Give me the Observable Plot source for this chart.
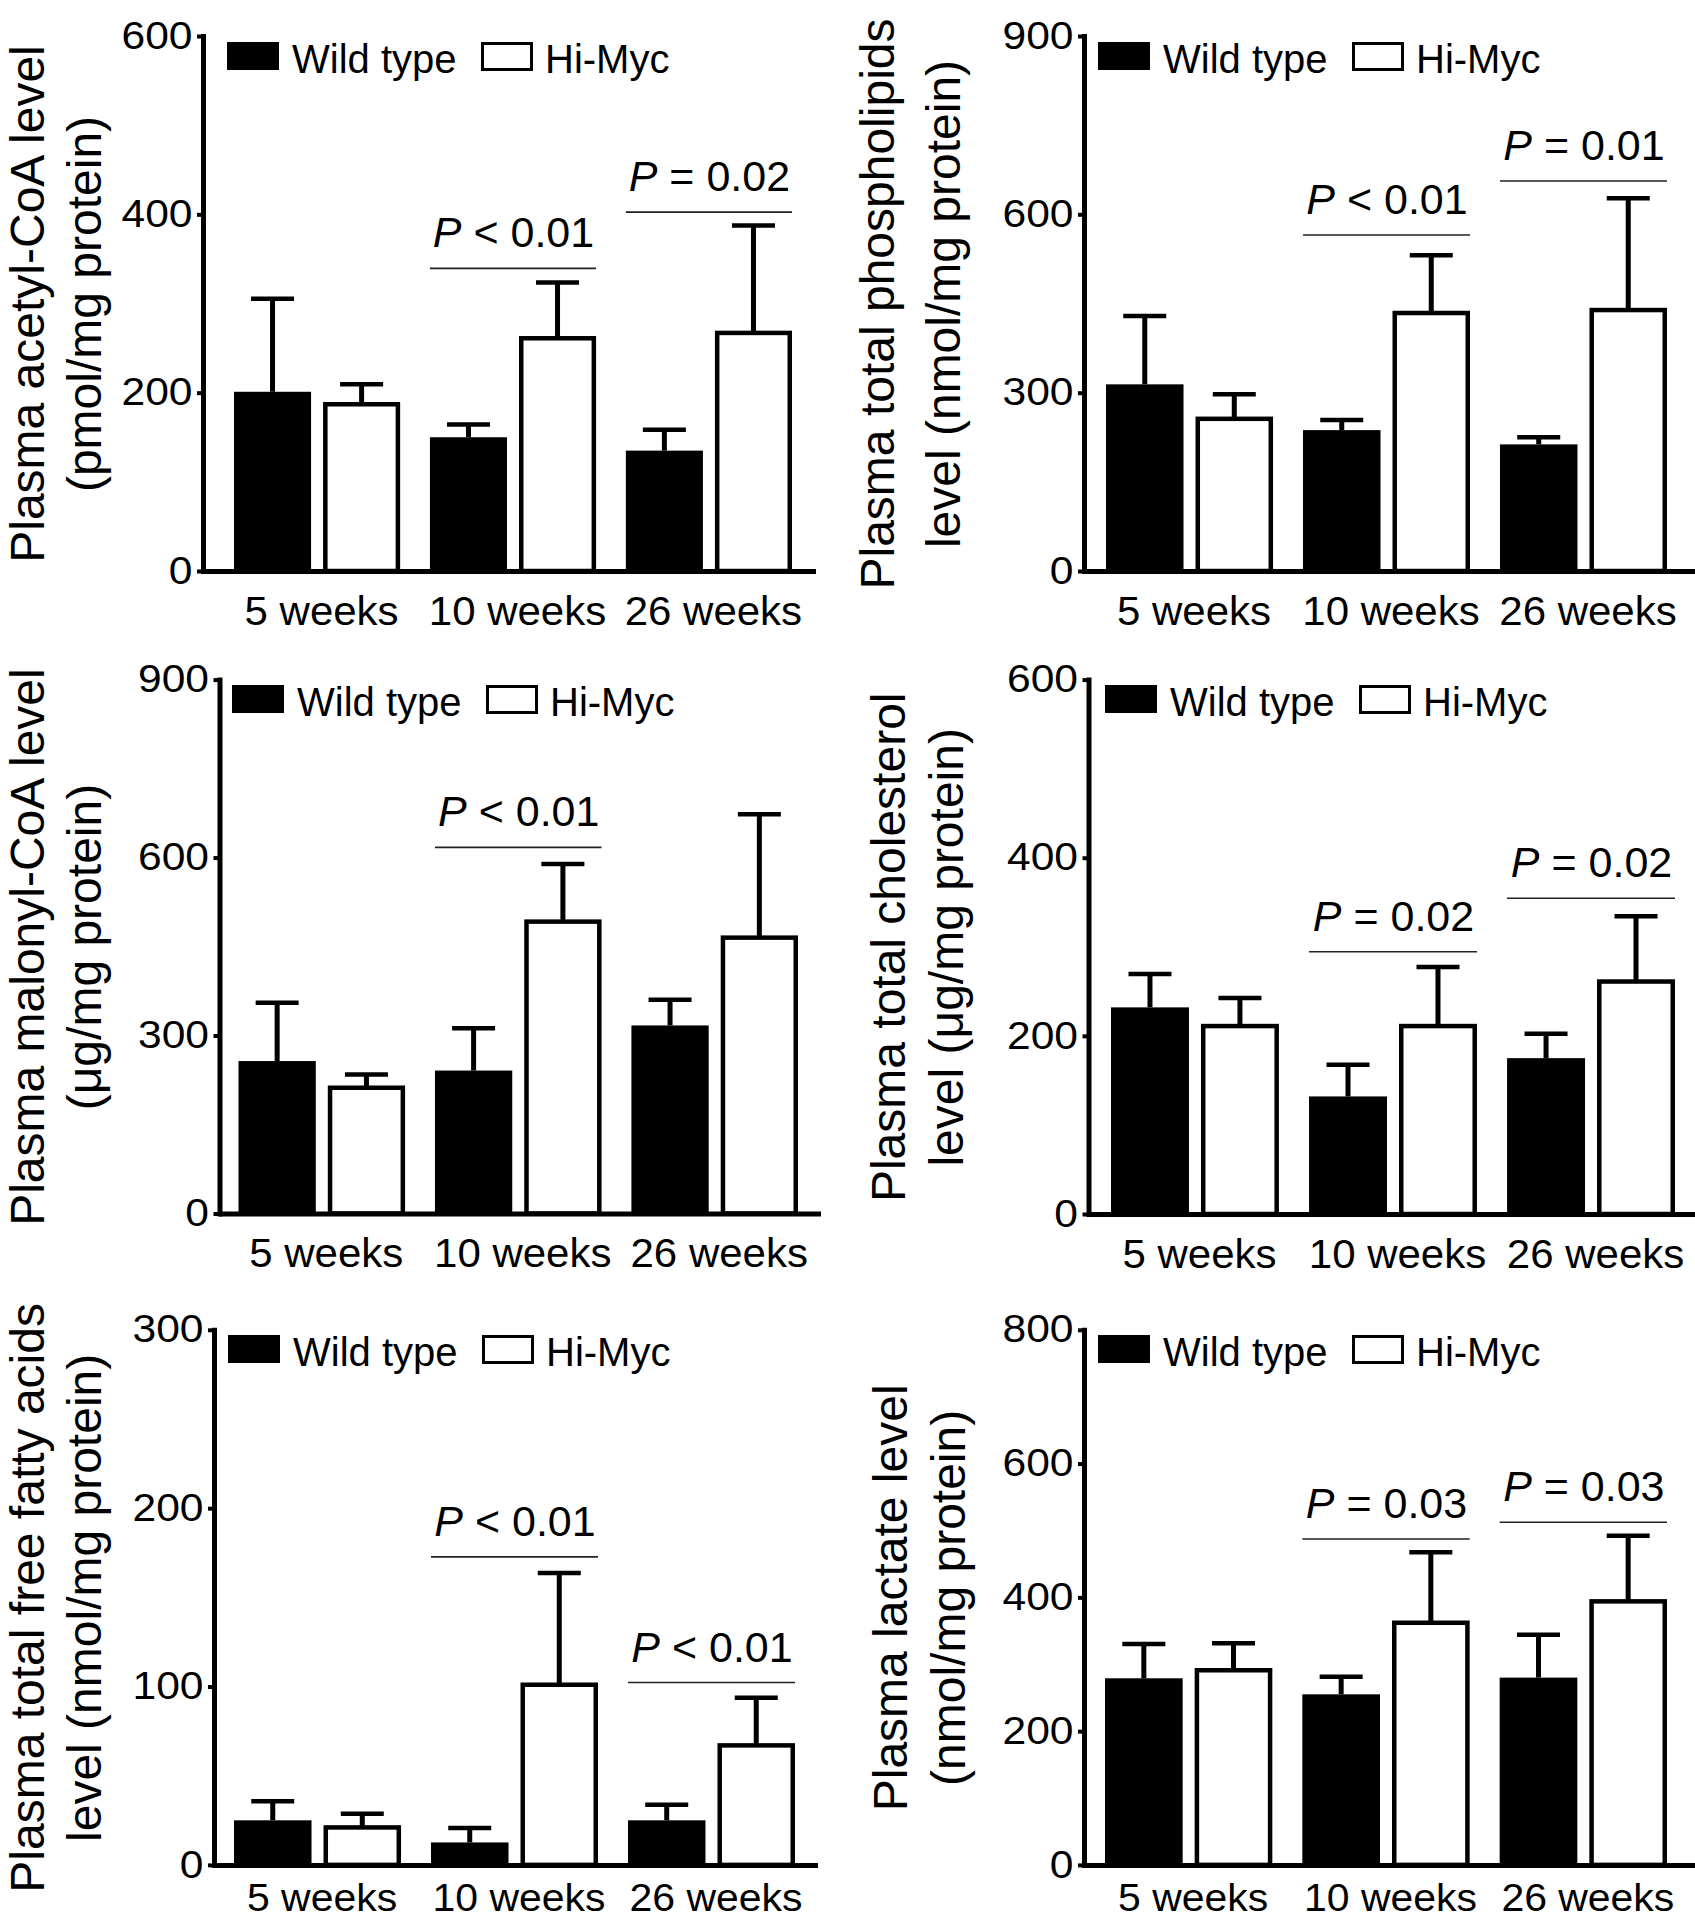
<!DOCTYPE html>
<html>
<head>
<meta charset="utf-8">
<title>Plasma metabolite levels: Wild type vs Hi-Myc</title>
<script src="https://cdn.jsdelivr.net/npm/d3@7"></script>
<script src="https://cdn.jsdelivr.net/npm/@observablehq/plot@0.6"></script>
<style>
  html, body { margin: 0; padding: 0; background: #fff; }
  body { width: 1695px; height: 1920px; overflow: hidden; font-family: "Liberation Sans", Arial, Helvetica, sans-serif; color: #000; }
  #figure { position: relative; width: 1695px; height: 1920px; background: #fff; }
  .panel { position: absolute; }
  .panel svg { display: block; overflow: visible; }
  .legend { position: absolute; height: 30px; width: 420px; }
  .legend .sw { position: absolute; top: 0; width: 52px; height: 28px; box-sizing: border-box; }
  .legend .sw.wt { background: #000; }
  .legend .sw.hi { background: #fff; border: 3.5px solid #000; height: 29px; }
  .legend .lbl { position: absolute; top: -3px; font-size: 40px; line-height: 1; white-space: nowrap; }
</style>
</head>
<body>
<div id="figure"></div>
<script>
// ---------------- data ----------------
const weeks = ["5 weeks", "10 weeks", "26 weeks"];
const genotypes = ["Wild type", "Hi-Myc"];

// Plasma acetyl-CoA
const acetylTitle = ["Plasma acetyl-CoA level", "(pmol/mg protein)"];
const acetylTicks = [0, 200, 400, 600];
const acetylWT = [201, 150, 135];
const acetylWTErr = [105, 15, 24];
const acetylHi = [187, 261, 267];
const acetylHiErr = [23, 63, 121];
const acetylP = ["", "P < 0.01", "P = 0.02"];
const acetylPLevel = [null, 340, 403];

// Plasma total phospholipids
const phosphoTitle = ["Plasma total phospholipids", "level (nmol/mg protein)"];
const phosphoTicks = [0, 300, 600, 900];
const phosphoWT = [314, 237, 213];
const phosphoWTErr = [116, 18, 13];
const phosphoHi = [256, 434, 439];
const phosphoHiErr = [42, 98, 189];
const phosphoP = ["", "P < 0.01", "P = 0.01"];
const phosphoPLevel = [null, 566, 657];

// Plasma malonyl-CoA
const malonylTitle = ["Plasma malonyl-CoA level", "(\u03bcg/mg protein)"];
const malonylTicks = [0, 300, 600, 900];
const malonylWT = [257, 241, 317];
const malonylWTErr = [99, 72, 44];
const malonylHi = [212, 492, 465];
const malonylHiErr = [23, 98, 209];
const malonylP = ["", "P < 0.01", ""];
const malonylPLevel = [null, 618, null];

// Plasma total cholesterol
const cholTitle = ["Plasma total cholesterol", "level (\u03bcg/mg protein)"];
const cholTicks = [0, 200, 400, 600];
const cholWT = [232, 132, 175];
const cholWTErr = [38, 36, 28];
const cholHi = [211, 211, 261];
const cholHiErr = [32, 67, 74];
const cholP = ["", "P = 0.02", "P = 0.02"];
const cholPLevel = [null, 295, 355];

// Plasma total free fatty acids
const ffaTitle = ["Plasma total free fatty acids", "level (nmol/mg protein)"];
const ffaTicks = [0, 100, 200, 300];
const ffaWT = [25, 12.6, 25];
const ffaWTErr = [11, 8.4, 9];
const ffaHi = [21, 101, 67];
const ffaHiErr = [8, 63, 27];
const ffaP = ["", "P < 0.01", "P < 0.01"];
const ffaPLevel = [null, 173, 102.5];

// Plasma lactate
const lactateTitle = ["Plasma lactate level", "(nmol/mg protein)"];
const lactateTicks = [0, 200, 400, 600, 800];
const lactateWT = [279, 255, 280];
const lactateWTErr = [52, 27, 65];
const lactateHi = [291, 362, 394];
const lactateHiErr = [41, 106, 99];
const lactateP = ["", "P = 0.03", "P = 0.03"];
const lactatePLevel = [null, 488, 513];

const panels = [
  {title: acetylTitle, ticks: acetylTicks, wt: acetylWT, wtErr: acetylWTErr, hi: acetylHi, hiErr: acetylHiErr, p: acetylP, pLevel: acetylPLevel},
  {title: phosphoTitle, ticks: phosphoTicks, wt: phosphoWT, wtErr: phosphoWTErr, hi: phosphoHi, hiErr: phosphoHiErr, p: phosphoP, pLevel: phosphoPLevel},
  {title: malonylTitle, ticks: malonylTicks, wt: malonylWT, wtErr: malonylWTErr, hi: malonylHi, hiErr: malonylHiErr, p: malonylP, pLevel: malonylPLevel},
  {title: cholTitle, ticks: cholTicks, wt: cholWT, wtErr: cholWTErr, hi: cholHi, hiErr: cholHiErr, p: cholP, pLevel: cholPLevel},
  {title: ffaTitle, ticks: ffaTicks, wt: ffaWT, wtErr: ffaWTErr, hi: ffaHi, hiErr: ffaHiErr, p: ffaP, pLevel: ffaPLevel},
  {title: lactateTitle, ticks: lactateTicks, wt: lactateWT, wtErr: lactateWTErr, hi: lactateHi, hiErr: lactateHiErr, p: lactateP, pLevel: lactatePLevel}
];

// ---------------- layout (pixels) ----------------
// A: y-axis x, B0: first bar left, B1: last bar right, E: baseline end, mt: top tick y, y0: baseline y
const layout = [
  {left: 0,   top: 0,    width: 850, A: 203,   B0: 234,   B1: 792, E: 816, mt: 36,   y0: 571,   titleX: 9,  titleLH: 1.19, legX: 227, xPad: 25, xFs: 40},
  {left: 850, top: 0,    width: 845, A: 234,   B0: 256,   B1: 817, E: 845, mt: 36,   y0: 571,   titleX: 9,  titleLH: 1.38, legX: 248, xPad: 25, xFs: 40},
  {left: 0,   top: 640,  width: 850, A: 219.5, B0: 238.5, B1: 798, E: 821, mt: 39.6, y0: 573.5, titleX: 9,  titleLH: 1.19, legX: 232, xPad: 25, xFs: 40},
  {left: 850, top: 640,  width: 845, A: 238.5, B0: 261,   B1: 825, E: 845, mt: 39.6, y0: 574,   titleX: 20, titleLH: 1.21, legX: 255, xPad: 25, xFs: 40},
  {left: 0,   top: 1280, width: 850, A: 214,   B0: 234,   B1: 795, E: 818, mt: 49.8, y0: 584.9, titleX: 9,  titleLH: 1.19, legX: 228, xPad: 18, xFs: 39},
  {left: 850, top: 1280, width: 845, A: 234,   B0: 255,   B1: 817, E: 845, mt: 49.8, y0: 584.9, titleX: 22, titleLH: 1.21, legX: 248, xPad: 18, xFs: 39}
];
const ROW_H = 640;
const FONT = '"Liberation Sans", Arial, Helvetica, sans-serif';
const PAD_INNER = 0.152;
const GAP_IN = 12;
const HI_STROKE = 4.5;
const STEM_W = 5;
const CAP_W = 43;
const TITLE_FS = 48;
const TICK_STRETCH = 1.12;   // the reference's tick numerals are slightly wide
const XLAB_STRETCH = 1.05;

const figure = document.getElementById("figure");
const SVGNS = "http://www.w3.org/2000/svg";

panels.forEach((p, k) => {
  const L = layout[k];
  const span = L.B1 - L.B0;
  const step = span / (3 - PAD_INNER);
  const bw = step * (1 - PAD_INNER);
  const outer = (L.E - L.A) - span;
  const po = outer / (2 * step);
  const align = (L.B0 - L.A) / outer;
  const w = (bw - GAP_IN) / 2;
  const cWT = w / 2, cHi = bw - w / 2;
  const around = (c, half) => ({insetLeft: c - half, insetRight: bw - c - half});

  const rows = weeks.map((week, i) => ({
    week,
    wt: p.wt[i], wtErr: p.wtErr[i],
    hi: p.hi[i], hiErr: p.hiErr[i],
    p: p.p[i], pLevel: p.pLevel[i]
  }));
  const pRows = rows.filter(d => d.p);
  const ymax = p.ticks[p.ticks.length - 1];
  const titleDx = L.titleX + 0.716 * TITLE_FS - 0.71 * L.titleLH * TITLE_FS - L.A;

  const chart = Plot.plot({
    width: L.width,
    height: ROW_H,
    marginLeft: L.A,
    marginRight: L.width - L.E,
    marginTop: L.mt,
    marginBottom: ROW_H - L.y0,
    style: {fontFamily: FONT, color: "#000", background: "transparent", overflow: "visible"},
    x: {type: "band", domain: weeks, paddingInner: PAD_INNER, paddingOuter: po, align, round: false, label: null},
    y: {domain: [0, ymax], label: null},
    marks: [
      Plot.axisY({ticks: p.ticks, tickSize: 6, tickPadding: 5, fontSize: 38, strokeWidth: 4, label: null}),
      Plot.axisX({tickSize: 0, tickPadding: L.xPad, fontSize: L.xFs, dx: 4, label: null}),
      // bars
      Plot.barY(rows, {x: "week", y: "wt", fill: "#000", insetLeft: 0, insetRight: bw - w}),
      Plot.barY(rows, {x: "week", y: "hi", fill: "#fff", stroke: "#000", strokeWidth: HI_STROKE,
        insetLeft: bw - w + HI_STROKE / 2, insetRight: HI_STROKE / 2}),
      // error stems
      Plot.barY(rows, {x: "week", y1: "wt", y2: d => d.wt + d.wtErr, fill: "#000", ...around(cWT, STEM_W / 2)}),
      Plot.barY(rows, {x: "week", y1: "hi", y2: d => d.hi + d.hiErr, fill: "#000", ...around(cHi, STEM_W / 2)}),
      // error caps
      Plot.tickY(rows, {x: "week", y: d => d.wt + d.wtErr, stroke: "#000", strokeWidth: 4.5, ...around(cWT, CAP_W / 2)}),
      Plot.tickY(rows, {x: "week", y: d => d.hi + d.hiErr, stroke: "#000", strokeWidth: 4.5, ...around(cHi, CAP_W / 2)}),
      // axis lines
      Plot.frame({anchor: "left", stroke: "#000", strokeWidth: 5}),
      Plot.ruleY([0], {stroke: "#000", strokeWidth: 5}),
      // significance brackets
      Plot.tickY(pRows, {x: "week", y: "pLevel", stroke: "#222", strokeWidth: 1.6}),
      Plot.text(pRows, {x: "week", y: "pLevel", text: "p", fontSize: 43, lineAnchor: "bottom", dy: -21, fill: "#000"}),
      // y-axis title
      Plot.text([p.title.join("\n")], {text: d => d, frameAnchor: "left", rotate: -90, lineAnchor: "top",
        textAnchor: "middle", lineHeight: L.titleLH, fontSize: TITLE_FS, dx: titleDx, fill: "#000"})
    ]
  });

  chart.querySelectorAll("text").forEach(t => {
    const s = t.textContent;
    if (t.children.length > 0) return;
    if (/^P [<=>]/.test(s)) {
      // italic "P" in significance labels
      t.textContent = "";
      const a = document.createElementNS(SVGNS, "tspan");
      a.setAttribute("font-style", "italic");
      a.textContent = s.slice(0, 1);
      const b = document.createElementNS(SVGNS, "tspan");
      b.textContent = s.slice(1);
      t.append(a, b);
    } else if (/^\d+$/.test(s)) {
      const tr = t.getAttribute("transform") || "";
      t.setAttribute("transform", tr + ` scale(${TICK_STRETCH},1)`);
    } else if (/weeks$/.test(s)) {
      const tr = t.getAttribute("transform") || "";
      t.setAttribute("transform", tr + ` scale(${XLAB_STRETCH},1)`);
    }
  });

  const panel = document.createElement("div");
  panel.className = "panel";
  panel.style.left = L.left + "px";
  panel.style.top = L.top + "px";
  panel.appendChild(chart);

  // legend
  const legend = document.createElement("div");
  legend.className = "legend";
  legend.style.left = L.legX + "px";
  legend.style.top = (L.mt + 5.5) + "px";
  const items = [
    {cls: "sw wt", left: 0},
    {cls: "lbl", left: 65, text: genotypes[0]},
    {cls: "sw hi", left: 254},
    {cls: "lbl", left: 318, text: genotypes[1]}
  ];
  items.forEach(it => {
    const el = document.createElement(it.text ? "span" : "div");
    el.className = it.cls;
    el.style.left = it.left + "px";
    if (it.text) el.textContent = it.text;
    legend.appendChild(el);
  });
  panel.appendChild(legend);

  figure.appendChild(panel);
});
</script>
</body>
</html>
